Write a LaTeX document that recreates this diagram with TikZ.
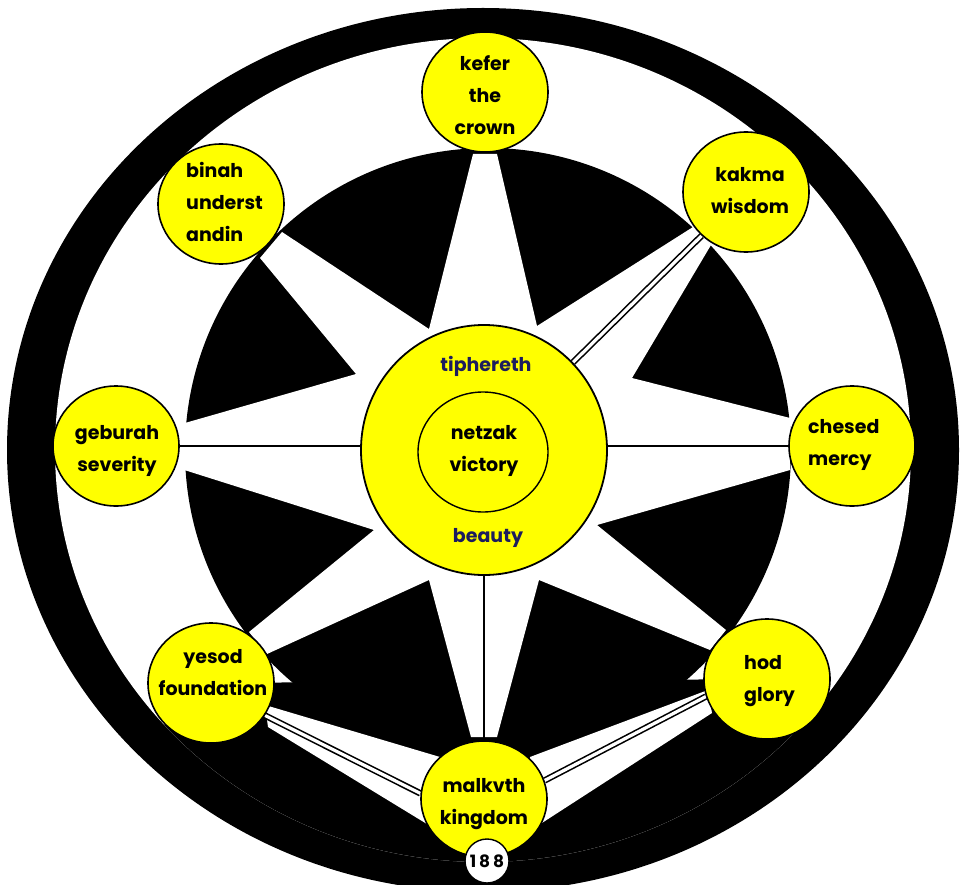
\documentclass[tikz,border=0pt]{standalone}
\usepackage{fontspec}
\setmainfont{Poppins}
\usetikzlibrary{calc,shapes.geometric}
\pgfdeclarelayer{bg}
\pgfdeclarelayer{mid}
\pgfsetlayers{bg,mid,main}
\definecolor{sefyellow}{HTML}{FFFF00}
\definecolor{navytext}{HTML}{1C1C5E}
\tikzset{
  sefira/.style={ellipse, draw=black, line width=1.6pt, fill=sefyellow,
    minimum width=126pt, minimum height=120pt, inner sep=0pt},
  lbl/.style={font=\fontsize{19}{32}\selectfont\bfseries, inner sep=0pt, text=black},
  conn/.style={line width=2.6pt, black},
  dconn/.style={line width=1.6pt, black, double=white, double distance=3.2pt},
}
\begin{document}
\begin{tikzpicture}[x=1pt, y=-1pt]
\useasboundingbox (0,0) rectangle (960,885);
% ---- sefirot (nodes) ----
\node[sefira] (kef) at (485,92) {};
\node[sefira] (bin) at (221,204) {};
\node[sefira] (kak) at (746,192) {};
\node[sefira] (geb) at (116,446) {};
\node[sefira] (che) at (852,446) {};
\node[sefira] (yes) at (211,683) {};
\node[sefira] (hod) at (767,679) {};
\node[sefira, minimum height=116pt] (mal) at (484,799) {};
\node[ellipse, draw=black, line width=1.8pt, fill=sefyellow,
      minimum width=246pt, minimum height=250pt, inner sep=0pt] (tip) at (484,450) {};
\node[ellipse, draw=black, line width=1.4pt,
      minimum width=130pt, minimum height=120pt, inner sep=0pt] (net) at (483,452) {};
\node[circle, draw=black, line width=1.4pt, fill=white, minimum size=44pt, inner sep=0pt,
      font=\fontsize{17}{18}\selectfont\bfseries] (num) at (487,861) {1\,8\,8};
% ---- texts ----
\node[lbl, align=center] (kefT) at (485,95) {kefer\\the\\crown};
\node[lbl, align=left, anchor=west] (binT) at (186,202) {binah\\underst\\andin};
\node[lbl, align=center] (kakT) at (750,191) {kakma\\wisdom};
\node[lbl, align=center] (gebT) at (117,451) {geburah\\severity};
\node[lbl, align=left, anchor=west] (cheT) at (808,445) {chesed\\mercy};
\node[lbl, align=center] (yesT) at (213,673) {yesod\\foundation};
\node[lbl, align=left, anchor=west] (hodT) at (744,681) {hod\\glory};
\node[lbl, align=center] (malT) at (484,804) {malkvth\\kingdom};
\node[lbl, align=center] (netT) at (484,451) {netzak\\victory};
\node[lbl, text=navytext] (tipT) at (486,366) {tiphereth};
\node[lbl, text=navytext] (beaT) at (488,538) {beauty};
% ---- background drawing ----
\begin{pgfonlayer}{bg}
\fill[white] (0,0) rectangle (960,885);
\begin{scope}
\clip (0,0) rectangle (960,885);
\fill[black] (483,450) ellipse [x radius=476, y radius=442];
\fill[white] (483,450) ellipse [x radius=428, y radius=412];
\begin{scope}
\clip (483,450) ellipse [x radius=428, y radius=412];
\fill[black] (488,451) circle [radius=303];
\fill[black] (211,683) -- (767,679) -- (985,895) -- (-25,895) -- cycle;
\end{scope}
% white star of rays
\fill[white] (473,154) -- (497,154) -- (537,326) -- (693,227) -- (711,245)
  -- (632,378) -- (790,418) -- (790,470) -- (597,525) -- (726,630) -- (710,650)
  -- (539,580) -- (497,737) -- (471,737) -- (429,580) -- (267,654) -- (249,632)
  -- (374,530) -- (178,468) -- (178,425) -- (356,374) -- (260,258) -- (282,232)
  -- (429,329) -- cycle;
% white strips to malkuth
\fill[white] (265,705) -- (440,757) -- (440,832) -- (268,727) -- cycle;
\fill[white] (708,690) -- (530,757) -- (528,832) -- (712,713) -- cycle;
\end{scope}
\end{pgfonlayer}
% ---- connectors ----
\begin{pgfonlayer}{mid}
\draw[conn] (geb.east) -- (geb.east -| tip.west);
\draw[conn] (che.west) -- (che.west -| tip.east);
\draw[conn] (mal.north) -- (tip.south);
\draw[dconn] (kak) -- (tip);
\draw[dconn] (yes.-31) -- (mal.175);
\draw[dconn] (hod.196) -- (mal.17);
\end{pgfonlayer}
\end{tikzpicture}
\end{document}
